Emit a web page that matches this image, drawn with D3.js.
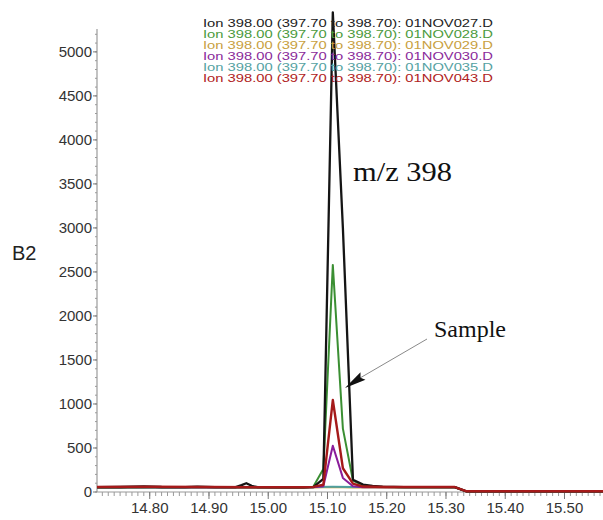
<!DOCTYPE html>
<html>
<head>
<meta charset="utf-8">
<script src="https://cdn.jsdelivr.net/npm/d3@7"></script>
<style>
  html, body { margin: 0; padding: 0; background: #fff; }
  svg { display: block; }
</style>
</head>
<body>
<svg id="chart" width="603" height="520"></svg>
<script>
// Extracted ion chromatograms, m/z 398 (397.70 to 398.70), retention time in minutes
const sampleFiles = ["01NOV027.D", "01NOV028.D", "01NOV029.D", "01NOV030.D", "01NOV035.D", "01NOV043.D"];
const seriesColors = ["#151515", "#3b8f33", "#c9a13a", "#8a1c9a", "#4f9f9f", "#a51a1a"];
const legendColors = ["#222222", "#4b9a3c", "#c8a040", "#8a2a9a", "#55a2a2", "#b02222"];

// [time, abundance] pairs per file
const trace027 = [[14.711,55],[14.75,57],[14.79,64],[14.82,57],[14.86,56],[14.88,62],[14.91,56],[14.945,56],[14.955,78],[14.963,100],[14.972,70],[14.982,55],[15.03,53],[15.059,53],[15.076,56],[15.093,150],[15.109,5450],[15.126,3000],[15.143,140],[15.160,85],[15.176,70],[15.193,60],[15.23,55],[15.315,55],[15.335,6],[15.565,6]];
const trace028 = [[14.711,52],[14.90,54],[15.00,52],[15.059,52],[15.076,60],[15.093,260],[15.109,2580],[15.126,720],[15.143,130],[15.160,75],[15.18,60],[15.22,54],[15.315,54],[15.335,6],[15.565,6]];
const trace029 = [[14.711,50],[15.00,50],[15.076,52],[15.109,58],[15.143,52],[15.315,52],[15.335,5],[15.565,5]];
const trace030 = [[14.711,50],[15.00,52],[15.076,55],[15.093,65],[15.109,525],[15.126,160],[15.143,65],[15.160,55],[15.315,53],[15.335,5],[15.565,5]];
const trace035 = [[14.711,52],[15.00,54],[15.076,58],[15.109,60],[15.143,58],[15.315,54],[15.335,5],[15.565,5]];
const trace043 = [[14.711,56],[14.80,60],[14.90,56],[15.00,54],[15.059,54],[15.076,58],[15.093,82],[15.109,1045],[15.126,270],[15.143,95],[15.160,62],[15.20,57],[15.315,56],[15.335,8],[15.565,8]];
const traces = [trace027, trace028, trace029, trace030, trace035, trace043];
// drawing order: baseline-only files first, red last
const drawOrder = [2, 4, 3, 1, 0, 5];

const xTickValues = [14.80, 14.90, 15.00, 15.10, 15.20, 15.30, 15.40, 15.50];
const yTickValues = [0, 500, 1000, 1500, 2000, 2500, 3000, 3500, 4000, 4500, 5000];
const xDomain = [14.711, 15.565];
const yDomain = [0, 5260];

const ionLabel = "Ion 398.00 (397.70 to 398.70): ";
const axisTitle = "B2";
const peakTitle = "m/z 398";
const arrowLabel = "Sample";

const svg = d3.select("#chart");
const sans = "'Liberation Sans', Arial, sans-serif";
const serif = "'Liberation Serif', 'Times New Roman', serif";

const x = d3.scaleLinear().domain(xDomain).range([97, 603]);
const y = d3.scaleLinear().domain(yDomain).range([492, 29]);
const axisColor = "#9a9a9a";

// y axis: minor ticks every 100, labelled ticks every 500
const yMinor = d3.range(0, 5201, 100);
const yAxisG = svg.append("g").attr("transform", `translate(${x.range()[0]},0)`);
yAxisG.append("line").attr("x1", 0).attr("x2", 0).attr("y1", y(yDomain[1])).attr("y2", y(0))
  .attr("stroke", axisColor).attr("stroke-width", 1.2);
yAxisG.selectAll("line.minor").data(yMinor).join("line").attr("class", "minor")
  .attr("x1", -2).attr("x2", 0).attr("y1", d => y(d)).attr("y2", d => y(d))
  .attr("stroke", axisColor).attr("stroke-width", 1);
yAxisG.selectAll("line.major").data(yTickValues).join("line").attr("class", "major")
  .attr("x1", -4).attr("x2", 0).attr("y1", d => y(d)).attr("y2", d => y(d))
  .attr("stroke", "#777").attr("stroke-width", 1);
yAxisG.selectAll("text").data(yTickValues).join("text")
  .attr("x", -5).attr("y", d => y(d)).attr("dy", "0.36em")
  .attr("text-anchor", "end").attr("font-family", sans).attr("font-size", 15)
  .attr("fill", "#333").text(d => d);

// x axis: minor ticks every 0.01 min
const xMinor = d3.range(1472, 1557).map(v => v / 100);
const xAxisG = svg.append("g").attr("transform", `translate(0,${y(0)})`);
xAxisG.append("line").attr("x1", x.range()[0]).attr("x2", x.range()[1]).attr("y1", 0).attr("y2", 0)
  .attr("stroke", axisColor).attr("stroke-width", 1.2);
xAxisG.selectAll("line.minor").data(xMinor).join("line").attr("class", "minor")
  .attr("x1", d => x(d)).attr("x2", d => x(d)).attr("y1", 0).attr("y2", 4)
  .attr("stroke", axisColor).attr("stroke-width", 1);
xAxisG.selectAll("line.major").data(xTickValues).join("line").attr("class", "major")
  .attr("x1", d => x(d)).attr("x2", d => x(d)).attr("y1", 0).attr("y2", 7)
  .attr("stroke", "#777").attr("stroke-width", 1);
xAxisG.selectAll("text").data(xTickValues).join("text")
  .attr("x", d => x(d)).attr("y", 21)
  .attr("text-anchor", "middle").attr("font-family", sans).attr("font-size", 15)
  .attr("fill", "#333").text(d => d.toFixed(2));

svg.append("text").attr("x", 12).attr("y", 260)
  .attr("font-family", sans).attr("font-size", 20).attr("fill", "#222").text(axisTitle);

// chromatogram traces
const line = d3.line().x(d => x(d[0])).y(d => y(d[1]));
svg.append("g").selectAll("path").data(drawOrder).join("path")
  .attr("d", i => line(traces[i]))
  .attr("fill", "none").attr("stroke", i => seriesColors[i])
  .attr("stroke-width", i => (i === 5 ? 2.4 : i === 0 ? 2.3 : 2))
  .attr("stroke-linejoin", "round");

// legend block
svg.append("g").selectAll("text").data(sampleFiles).join("text")
  .attr("x", 203).attr("y", (d, i) => 27 + i * 11)
  .attr("font-family", sans).attr("font-size", 11)
  .attr("textLength", 290).attr("lengthAdjust", "spacingAndGlyphs")
  .attr("fill", (d, i) => legendColors[i])
  .text(d => ionLabel + d);

// annotations
svg.append("text").attr("x", 353).attr("y", 181)
  .attr("font-family", serif).attr("font-size", 28)
  .attr("textLength", 99).attr("lengthAdjust", "spacingAndGlyphs")
  .attr("fill", "#111").text(peakTitle);

svg.append("text").attr("x", 434).attr("y", 337)
  .attr("font-family", serif).attr("font-size", 24)
  .attr("fill", "#111").text(arrowLabel);

svg.append("line").attr("x1", 427).attr("y1", 339).attr("x2", 360).attr("y2", 378)
  .attr("stroke", "#8a8a8a").attr("stroke-width", 1);
// arrowhead pointing at the black peak
const tip = [345, 388], back = [363, 376];
const ang = Math.atan2(back[1] - tip[1], back[0] - tip[0]);
const hw = 4.5;
const p1 = [back[0] + hw * Math.sin(ang), back[1] - hw * Math.cos(ang)];
const p2 = [back[0] - hw * Math.sin(ang), back[1] + hw * Math.cos(ang)];
svg.append("path")
  .attr("d", `M${tip[0]},${tip[1]}L${p1[0]},${p1[1]}L${back[0] - 3 * Math.cos(ang)},${back[1] - 3 * Math.sin(ang)}L${p2[0]},${p2[1]}Z`)
  .attr("fill", "#111");
</script>
</body>
</html>
